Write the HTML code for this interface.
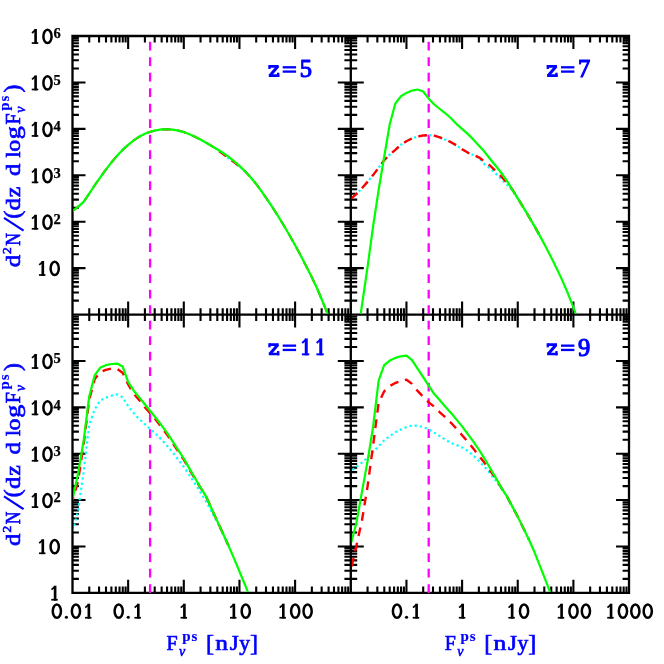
<!DOCTYPE html>
<html><head><meta charset="utf-8"><title>chart</title>
<style>
html,body{margin:0;padding:0;background:#fff;}
body{width:664px;height:664px;overflow:hidden;font-family:"Liberation Serif",serif;}
svg{display:block;will-change:transform;}
</style></head><body>
<svg width="664" height="664" viewBox="0 0 664 664">
<rect width="664" height="664" fill="#fff"/>
<defs>
<clipPath id="c1"><rect x="73.50" y="37.00" width="276.30" height="276.60"/></clipPath>
<clipPath id="c2"><rect x="351.80" y="37.00" width="276.20" height="276.60"/></clipPath>
<clipPath id="c3"><rect x="73.50" y="315.60" width="276.30" height="276.20"/></clipPath>
<clipPath id="c4"><rect x="351.80" y="315.60" width="276.20" height="276.20"/></clipPath>
</defs>
<path d="M89.25,36.00 L89.25,42.40 M89.25,308.20 L89.25,321.00 M89.25,592.80 L89.25,586.40 M99.05,36.00 L99.05,42.40 M99.05,308.20 L99.05,321.00 M99.05,592.80 L99.05,586.40 M106.00,36.00 L106.00,42.40 M106.00,308.20 L106.00,321.00 M106.00,592.80 L106.00,586.40 M111.40,36.00 L111.40,42.40 M111.40,308.20 L111.40,321.00 M111.40,592.80 L111.40,586.40 M115.80,36.00 L115.80,42.40 M115.80,308.20 L115.80,321.00 M115.80,592.80 L115.80,586.40 M119.53,36.00 L119.53,42.40 M119.53,308.20 L119.53,321.00 M119.53,592.80 L119.53,586.40 M122.76,36.00 L122.76,42.40 M122.76,308.20 L122.76,321.00 M122.76,592.80 L122.76,586.40 M125.60,36.00 L125.60,42.40 M125.60,308.20 L125.60,321.00 M125.60,592.80 L125.60,586.40 M128.15,36.00 L128.15,49.00 M128.15,301.60 L128.15,327.60 M128.15,592.80 L128.15,579.80 M144.90,36.00 L144.90,42.40 M144.90,308.20 L144.90,321.00 M144.90,592.80 L144.90,586.40 M154.70,36.00 L154.70,42.40 M154.70,308.20 L154.70,321.00 M154.70,592.80 L154.70,586.40 M161.65,36.00 L161.65,42.40 M161.65,308.20 L161.65,321.00 M161.65,592.80 L161.65,586.40 M167.05,36.00 L167.05,42.40 M167.05,308.20 L167.05,321.00 M167.05,592.80 L167.05,586.40 M171.45,36.00 L171.45,42.40 M171.45,308.20 L171.45,321.00 M171.45,592.80 L171.45,586.40 M175.18,36.00 L175.18,42.40 M175.18,308.20 L175.18,321.00 M175.18,592.80 L175.18,586.40 M178.41,36.00 L178.41,42.40 M178.41,308.20 L178.41,321.00 M178.41,592.80 L178.41,586.40 M181.25,36.00 L181.25,42.40 M181.25,308.20 L181.25,321.00 M181.25,592.80 L181.25,586.40 M183.80,36.00 L183.80,49.00 M183.80,301.60 L183.80,327.60 M183.80,592.80 L183.80,579.80 M200.55,36.00 L200.55,42.40 M200.55,308.20 L200.55,321.00 M200.55,592.80 L200.55,586.40 M210.35,36.00 L210.35,42.40 M210.35,308.20 L210.35,321.00 M210.35,592.80 L210.35,586.40 M217.30,36.00 L217.30,42.40 M217.30,308.20 L217.30,321.00 M217.30,592.80 L217.30,586.40 M222.70,36.00 L222.70,42.40 M222.70,308.20 L222.70,321.00 M222.70,592.80 L222.70,586.40 M227.10,36.00 L227.10,42.40 M227.10,308.20 L227.10,321.00 M227.10,592.80 L227.10,586.40 M230.83,36.00 L230.83,42.40 M230.83,308.20 L230.83,321.00 M230.83,592.80 L230.83,586.40 M234.06,36.00 L234.06,42.40 M234.06,308.20 L234.06,321.00 M234.06,592.80 L234.06,586.40 M236.90,36.00 L236.90,42.40 M236.90,308.20 L236.90,321.00 M236.90,592.80 L236.90,586.40 M239.45,36.00 L239.45,49.00 M239.45,301.60 L239.45,327.60 M239.45,592.80 L239.45,579.80 M256.20,36.00 L256.20,42.40 M256.20,308.20 L256.20,321.00 M256.20,592.80 L256.20,586.40 M266.00,36.00 L266.00,42.40 M266.00,308.20 L266.00,321.00 M266.00,592.80 L266.00,586.40 M272.95,36.00 L272.95,42.40 M272.95,308.20 L272.95,321.00 M272.95,592.80 L272.95,586.40 M278.35,36.00 L278.35,42.40 M278.35,308.20 L278.35,321.00 M278.35,592.80 L278.35,586.40 M282.75,36.00 L282.75,42.40 M282.75,308.20 L282.75,321.00 M282.75,592.80 L282.75,586.40 M286.48,36.00 L286.48,42.40 M286.48,308.20 L286.48,321.00 M286.48,592.80 L286.48,586.40 M289.71,36.00 L289.71,42.40 M289.71,308.20 L289.71,321.00 M289.71,592.80 L289.71,586.40 M292.55,36.00 L292.55,42.40 M292.55,308.20 L292.55,321.00 M292.55,592.80 L292.55,586.40 M295.10,36.00 L295.10,49.00 M295.10,301.60 L295.10,327.60 M295.10,592.80 L295.10,579.80 M311.85,36.00 L311.85,42.40 M311.85,308.20 L311.85,321.00 M311.85,592.80 L311.85,586.40 M321.65,36.00 L321.65,42.40 M321.65,308.20 L321.65,321.00 M321.65,592.80 L321.65,586.40 M328.60,36.00 L328.60,42.40 M328.60,308.20 L328.60,321.00 M328.60,592.80 L328.60,586.40 M334.00,36.00 L334.00,42.40 M334.00,308.20 L334.00,321.00 M334.00,592.80 L334.00,586.40 M338.40,36.00 L338.40,42.40 M338.40,308.20 L338.40,321.00 M338.40,592.80 L338.40,586.40 M342.13,36.00 L342.13,42.40 M342.13,308.20 L342.13,321.00 M342.13,592.80 L342.13,586.40 M345.36,36.00 L345.36,42.40 M345.36,308.20 L345.36,321.00 M345.36,592.80 L345.36,586.40 M348.20,36.00 L348.20,42.40 M348.20,308.20 L348.20,321.00 M348.20,592.80 L348.20,586.40 M367.55,36.00 L367.55,42.40 M367.55,308.20 L367.55,321.00 M367.55,592.80 L367.55,586.40 M377.35,36.00 L377.35,42.40 M377.35,308.20 L377.35,321.00 M377.35,592.80 L377.35,586.40 M384.30,36.00 L384.30,42.40 M384.30,308.20 L384.30,321.00 M384.30,592.80 L384.30,586.40 M389.70,36.00 L389.70,42.40 M389.70,308.20 L389.70,321.00 M389.70,592.80 L389.70,586.40 M394.10,36.00 L394.10,42.40 M394.10,308.20 L394.10,321.00 M394.10,592.80 L394.10,586.40 M397.83,36.00 L397.83,42.40 M397.83,308.20 L397.83,321.00 M397.83,592.80 L397.83,586.40 M401.06,36.00 L401.06,42.40 M401.06,308.20 L401.06,321.00 M401.06,592.80 L401.06,586.40 M403.90,36.00 L403.90,42.40 M403.90,308.20 L403.90,321.00 M403.90,592.80 L403.90,586.40 M406.45,36.00 L406.45,49.00 M406.45,301.60 L406.45,327.60 M406.45,592.80 L406.45,579.80 M423.20,36.00 L423.20,42.40 M423.20,308.20 L423.20,321.00 M423.20,592.80 L423.20,586.40 M433.00,36.00 L433.00,42.40 M433.00,308.20 L433.00,321.00 M433.00,592.80 L433.00,586.40 M439.95,36.00 L439.95,42.40 M439.95,308.20 L439.95,321.00 M439.95,592.80 L439.95,586.40 M445.35,36.00 L445.35,42.40 M445.35,308.20 L445.35,321.00 M445.35,592.80 L445.35,586.40 M449.75,36.00 L449.75,42.40 M449.75,308.20 L449.75,321.00 M449.75,592.80 L449.75,586.40 M453.48,36.00 L453.48,42.40 M453.48,308.20 L453.48,321.00 M453.48,592.80 L453.48,586.40 M456.71,36.00 L456.71,42.40 M456.71,308.20 L456.71,321.00 M456.71,592.80 L456.71,586.40 M459.55,36.00 L459.55,42.40 M459.55,308.20 L459.55,321.00 M459.55,592.80 L459.55,586.40 M462.10,36.00 L462.10,49.00 M462.10,301.60 L462.10,327.60 M462.10,592.80 L462.10,579.80 M478.85,36.00 L478.85,42.40 M478.85,308.20 L478.85,321.00 M478.85,592.80 L478.85,586.40 M488.65,36.00 L488.65,42.40 M488.65,308.20 L488.65,321.00 M488.65,592.80 L488.65,586.40 M495.60,36.00 L495.60,42.40 M495.60,308.20 L495.60,321.00 M495.60,592.80 L495.60,586.40 M501.00,36.00 L501.00,42.40 M501.00,308.20 L501.00,321.00 M501.00,592.80 L501.00,586.40 M505.40,36.00 L505.40,42.40 M505.40,308.20 L505.40,321.00 M505.40,592.80 L505.40,586.40 M509.13,36.00 L509.13,42.40 M509.13,308.20 L509.13,321.00 M509.13,592.80 L509.13,586.40 M512.36,36.00 L512.36,42.40 M512.36,308.20 L512.36,321.00 M512.36,592.80 L512.36,586.40 M515.20,36.00 L515.20,42.40 M515.20,308.20 L515.20,321.00 M515.20,592.80 L515.20,586.40 M517.75,36.00 L517.75,49.00 M517.75,301.60 L517.75,327.60 M517.75,592.80 L517.75,579.80 M534.50,36.00 L534.50,42.40 M534.50,308.20 L534.50,321.00 M534.50,592.80 L534.50,586.40 M544.30,36.00 L544.30,42.40 M544.30,308.20 L544.30,321.00 M544.30,592.80 L544.30,586.40 M551.25,36.00 L551.25,42.40 M551.25,308.20 L551.25,321.00 M551.25,592.80 L551.25,586.40 M556.65,36.00 L556.65,42.40 M556.65,308.20 L556.65,321.00 M556.65,592.80 L556.65,586.40 M561.05,36.00 L561.05,42.40 M561.05,308.20 L561.05,321.00 M561.05,592.80 L561.05,586.40 M564.78,36.00 L564.78,42.40 M564.78,308.20 L564.78,321.00 M564.78,592.80 L564.78,586.40 M568.01,36.00 L568.01,42.40 M568.01,308.20 L568.01,321.00 M568.01,592.80 L568.01,586.40 M570.85,36.00 L570.85,42.40 M570.85,308.20 L570.85,321.00 M570.85,592.80 L570.85,586.40 M573.40,36.00 L573.40,49.00 M573.40,301.60 L573.40,327.60 M573.40,592.80 L573.40,579.80 M590.15,36.00 L590.15,42.40 M590.15,308.20 L590.15,321.00 M590.15,592.80 L590.15,586.40 M599.95,36.00 L599.95,42.40 M599.95,308.20 L599.95,321.00 M599.95,592.80 L599.95,586.40 M606.90,36.00 L606.90,42.40 M606.90,308.20 L606.90,321.00 M606.90,592.80 L606.90,586.40 M612.30,36.00 L612.30,42.40 M612.30,308.20 L612.30,321.00 M612.30,592.80 L612.30,586.40 M616.70,36.00 L616.70,42.40 M616.70,308.20 L616.70,321.00 M616.70,592.80 L616.70,586.40 M620.43,36.00 L620.43,42.40 M620.43,308.20 L620.43,321.00 M620.43,592.80 L620.43,586.40 M623.66,36.00 L623.66,42.40 M623.66,308.20 L623.66,321.00 M623.66,592.80 L623.66,586.40 M626.50,36.00 L626.50,42.40 M626.50,308.20 L626.50,321.00 M626.50,592.80 L626.50,586.40 M72.50,300.62 L78.90,300.62 M344.40,300.62 L357.20,300.62 M629.00,300.62 L622.60,300.62 M72.50,292.45 L78.90,292.45 M344.40,292.45 L357.20,292.45 M629.00,292.45 L622.60,292.45 M72.50,286.64 L78.90,286.64 M344.40,286.64 L357.20,286.64 M629.00,286.64 L622.60,286.64 M72.50,282.14 L78.90,282.14 M344.40,282.14 L357.20,282.14 M629.00,282.14 L622.60,282.14 M72.50,278.47 L78.90,278.47 M344.40,278.47 L357.20,278.47 M629.00,278.47 L622.60,278.47 M72.50,275.36 L78.90,275.36 M344.40,275.36 L357.20,275.36 M629.00,275.36 L622.60,275.36 M72.50,272.67 L78.90,272.67 M344.40,272.67 L357.20,272.67 M629.00,272.67 L622.60,272.67 M72.50,270.29 L78.90,270.29 M344.40,270.29 L357.20,270.29 M629.00,270.29 L622.60,270.29 M72.50,268.17 L85.50,268.17 M337.80,268.17 L363.80,268.17 M629.00,268.17 L616.00,268.17 M72.50,254.19 L78.90,254.19 M344.40,254.19 L357.20,254.19 M629.00,254.19 L622.60,254.19 M72.50,246.01 L78.90,246.01 M344.40,246.01 L357.20,246.01 M629.00,246.01 L622.60,246.01 M72.50,240.21 L78.90,240.21 M344.40,240.21 L357.20,240.21 M629.00,240.21 L622.60,240.21 M72.50,235.71 L78.90,235.71 M344.40,235.71 L357.20,235.71 M629.00,235.71 L622.60,235.71 M72.50,232.03 L78.90,232.03 M344.40,232.03 L357.20,232.03 M629.00,232.03 L622.60,232.03 M72.50,228.93 L78.90,228.93 M344.40,228.93 L357.20,228.93 M629.00,228.93 L622.60,228.93 M72.50,226.23 L78.90,226.23 M344.40,226.23 L357.20,226.23 M629.00,226.23 L622.60,226.23 M72.50,223.86 L78.90,223.86 M344.40,223.86 L357.20,223.86 M629.00,223.86 L622.60,223.86 M72.50,221.73 L85.50,221.73 M337.80,221.73 L363.80,221.73 M629.00,221.73 L616.00,221.73 M72.50,207.76 L78.90,207.76 M344.40,207.76 L357.20,207.76 M629.00,207.76 L622.60,207.76 M72.50,199.58 L78.90,199.58 M344.40,199.58 L357.20,199.58 M629.00,199.58 L622.60,199.58 M72.50,193.78 L78.90,193.78 M344.40,193.78 L357.20,193.78 M629.00,193.78 L622.60,193.78 M72.50,189.28 L78.90,189.28 M344.40,189.28 L357.20,189.28 M629.00,189.28 L622.60,189.28 M72.50,185.60 L78.90,185.60 M344.40,185.60 L357.20,185.60 M629.00,185.60 L622.60,185.60 M72.50,182.49 L78.90,182.49 M344.40,182.49 L357.20,182.49 M629.00,182.49 L622.60,182.49 M72.50,179.80 L78.90,179.80 M344.40,179.80 L357.20,179.80 M629.00,179.80 L622.60,179.80 M72.50,177.42 L78.90,177.42 M344.40,177.42 L357.20,177.42 M629.00,177.42 L622.60,177.42 M72.50,175.30 L85.50,175.30 M337.80,175.30 L363.80,175.30 M629.00,175.30 L616.00,175.30 M72.50,161.32 L78.90,161.32 M344.40,161.32 L357.20,161.32 M629.00,161.32 L622.60,161.32 M72.50,153.15 L78.90,153.15 M344.40,153.15 L357.20,153.15 M629.00,153.15 L622.60,153.15 M72.50,147.34 L78.90,147.34 M344.40,147.34 L357.20,147.34 M629.00,147.34 L622.60,147.34 M72.50,142.84 L78.90,142.84 M344.40,142.84 L357.20,142.84 M629.00,142.84 L622.60,142.84 M72.50,139.17 L78.90,139.17 M344.40,139.17 L357.20,139.17 M629.00,139.17 L622.60,139.17 M72.50,136.06 L78.90,136.06 M344.40,136.06 L357.20,136.06 M629.00,136.06 L622.60,136.06 M72.50,133.37 L78.90,133.37 M344.40,133.37 L357.20,133.37 M629.00,133.37 L622.60,133.37 M72.50,130.99 L78.90,130.99 M344.40,130.99 L357.20,130.99 M629.00,130.99 L622.60,130.99 M72.50,128.87 L85.50,128.87 M337.80,128.87 L363.80,128.87 M629.00,128.87 L616.00,128.87 M72.50,114.89 L78.90,114.89 M344.40,114.89 L357.20,114.89 M629.00,114.89 L622.60,114.89 M72.50,106.71 L78.90,106.71 M344.40,106.71 L357.20,106.71 M629.00,106.71 L622.60,106.71 M72.50,100.91 L78.90,100.91 M344.40,100.91 L357.20,100.91 M629.00,100.91 L622.60,100.91 M72.50,96.41 L78.90,96.41 M344.40,96.41 L357.20,96.41 M629.00,96.41 L622.60,96.41 M72.50,92.73 L78.90,92.73 M344.40,92.73 L357.20,92.73 M629.00,92.73 L622.60,92.73 M72.50,89.63 L78.90,89.63 M344.40,89.63 L357.20,89.63 M629.00,89.63 L622.60,89.63 M72.50,86.93 L78.90,86.93 M344.40,86.93 L357.20,86.93 M629.00,86.93 L622.60,86.93 M72.50,84.56 L78.90,84.56 M344.40,84.56 L357.20,84.56 M629.00,84.56 L622.60,84.56 M72.50,82.43 L85.50,82.43 M337.80,82.43 L363.80,82.43 M629.00,82.43 L616.00,82.43 M72.50,68.46 L78.90,68.46 M344.40,68.46 L357.20,68.46 M629.00,68.46 L622.60,68.46 M72.50,60.28 L78.90,60.28 M344.40,60.28 L357.20,60.28 M629.00,60.28 L622.60,60.28 M72.50,54.48 L78.90,54.48 M344.40,54.48 L357.20,54.48 M629.00,54.48 L622.60,54.48 M72.50,49.98 L78.90,49.98 M344.40,49.98 L357.20,49.98 M629.00,49.98 L622.60,49.98 M72.50,46.30 L78.90,46.30 M344.40,46.30 L357.20,46.30 M629.00,46.30 L622.60,46.30 M72.50,43.19 L78.90,43.19 M344.40,43.19 L357.20,43.19 M629.00,43.19 L622.60,43.19 M72.50,40.50 L78.90,40.50 M344.40,40.50 L357.20,40.50 M629.00,40.50 L622.60,40.50 M72.50,38.12 L78.90,38.12 M344.40,38.12 L357.20,38.12 M629.00,38.12 L622.60,38.12 M72.50,578.84 L78.90,578.84 M344.40,578.84 L357.20,578.84 M629.00,578.84 L622.60,578.84 M72.50,570.68 L78.90,570.68 M344.40,570.68 L357.20,570.68 M629.00,570.68 L622.60,570.68 M72.50,564.88 L78.90,564.88 M344.40,564.88 L357.20,564.88 M629.00,564.88 L622.60,564.88 M72.50,560.39 L78.90,560.39 M344.40,560.39 L357.20,560.39 M629.00,560.39 L622.60,560.39 M72.50,556.72 L78.90,556.72 M344.40,556.72 L357.20,556.72 M629.00,556.72 L622.60,556.72 M72.50,553.62 L78.90,553.62 M344.40,553.62 L357.20,553.62 M629.00,553.62 L622.60,553.62 M72.50,550.93 L78.90,550.93 M344.40,550.93 L357.20,550.93 M629.00,550.93 L622.60,550.93 M72.50,548.55 L78.90,548.55 M344.40,548.55 L357.20,548.55 M629.00,548.55 L622.60,548.55 M72.50,546.43 L85.50,546.43 M337.80,546.43 L363.80,546.43 M629.00,546.43 L616.00,546.43 M72.50,532.48 L78.90,532.48 M344.40,532.48 L357.20,532.48 M629.00,532.48 L622.60,532.48 M72.50,524.31 L78.90,524.31 M344.40,524.31 L357.20,524.31 M629.00,524.31 L622.60,524.31 M72.50,518.52 L78.90,518.52 M344.40,518.52 L357.20,518.52 M629.00,518.52 L622.60,518.52 M72.50,514.02 L78.90,514.02 M344.40,514.02 L357.20,514.02 M629.00,514.02 L622.60,514.02 M72.50,510.35 L78.90,510.35 M344.40,510.35 L357.20,510.35 M629.00,510.35 L622.60,510.35 M72.50,507.25 L78.90,507.25 M344.40,507.25 L357.20,507.25 M629.00,507.25 L622.60,507.25 M72.50,504.56 L78.90,504.56 M344.40,504.56 L357.20,504.56 M629.00,504.56 L622.60,504.56 M72.50,502.19 L78.90,502.19 M344.40,502.19 L357.20,502.19 M629.00,502.19 L622.60,502.19 M72.50,500.07 L85.50,500.07 M337.80,500.07 L363.80,500.07 M629.00,500.07 L616.00,500.07 M72.50,486.11 L78.90,486.11 M344.40,486.11 L357.20,486.11 M629.00,486.11 L622.60,486.11 M72.50,477.94 L78.90,477.94 M344.40,477.94 L357.20,477.94 M629.00,477.94 L622.60,477.94 M72.50,472.15 L78.90,472.15 M344.40,472.15 L357.20,472.15 M629.00,472.15 L622.60,472.15 M72.50,467.66 L78.90,467.66 M344.40,467.66 L357.20,467.66 M629.00,467.66 L622.60,467.66 M72.50,463.99 L78.90,463.99 M344.40,463.99 L357.20,463.99 M629.00,463.99 L622.60,463.99 M72.50,460.88 L78.90,460.88 M344.40,460.88 L357.20,460.88 M629.00,460.88 L622.60,460.88 M72.50,458.19 L78.90,458.19 M344.40,458.19 L357.20,458.19 M629.00,458.19 L622.60,458.19 M72.50,455.82 L78.90,455.82 M344.40,455.82 L357.20,455.82 M629.00,455.82 L622.60,455.82 M72.50,453.70 L85.50,453.70 M337.80,453.70 L363.80,453.70 M629.00,453.70 L616.00,453.70 M72.50,439.74 L78.90,439.74 M344.40,439.74 L357.20,439.74 M629.00,439.74 L622.60,439.74 M72.50,431.58 L78.90,431.58 M344.40,431.58 L357.20,431.58 M629.00,431.58 L622.60,431.58 M72.50,425.78 L78.90,425.78 M344.40,425.78 L357.20,425.78 M629.00,425.78 L622.60,425.78 M72.50,421.29 L78.90,421.29 M344.40,421.29 L357.20,421.29 M629.00,421.29 L622.60,421.29 M72.50,417.62 L78.90,417.62 M344.40,417.62 L357.20,417.62 M629.00,417.62 L622.60,417.62 M72.50,414.52 L78.90,414.52 M344.40,414.52 L357.20,414.52 M629.00,414.52 L622.60,414.52 M72.50,411.83 L78.90,411.83 M344.40,411.83 L357.20,411.83 M629.00,411.83 L622.60,411.83 M72.50,409.45 L78.90,409.45 M344.40,409.45 L357.20,409.45 M629.00,409.45 L622.60,409.45 M72.50,407.33 L85.50,407.33 M337.80,407.33 L363.80,407.33 M629.00,407.33 L616.00,407.33 M72.50,393.38 L78.90,393.38 M344.40,393.38 L357.20,393.38 M629.00,393.38 L622.60,393.38 M72.50,385.21 L78.90,385.21 M344.40,385.21 L357.20,385.21 M629.00,385.21 L622.60,385.21 M72.50,379.42 L78.90,379.42 M344.40,379.42 L357.20,379.42 M629.00,379.42 L622.60,379.42 M72.50,374.92 L78.90,374.92 M344.40,374.92 L357.20,374.92 M629.00,374.92 L622.60,374.92 M72.50,371.25 L78.90,371.25 M344.40,371.25 L357.20,371.25 M629.00,371.25 L622.60,371.25 M72.50,368.15 L78.90,368.15 M344.40,368.15 L357.20,368.15 M629.00,368.15 L622.60,368.15 M72.50,365.46 L78.90,365.46 M344.40,365.46 L357.20,365.46 M629.00,365.46 L622.60,365.46 M72.50,363.09 L78.90,363.09 M344.40,363.09 L357.20,363.09 M629.00,363.09 L622.60,363.09 M72.50,360.97 L85.50,360.97 M337.80,360.97 L363.80,360.97 M629.00,360.97 L616.00,360.97 M72.50,347.01 L78.90,347.01 M344.40,347.01 L357.20,347.01 M629.00,347.01 L622.60,347.01 M72.50,338.84 L78.90,338.84 M344.40,338.84 L357.20,338.84 M629.00,338.84 L622.60,338.84 M72.50,333.05 L78.90,333.05 M344.40,333.05 L357.20,333.05 M629.00,333.05 L622.60,333.05 M72.50,328.56 L78.90,328.56 M344.40,328.56 L357.20,328.56 M629.00,328.56 L622.60,328.56 M72.50,324.89 L78.90,324.89 M344.40,324.89 L357.20,324.89 M629.00,324.89 L622.60,324.89 M72.50,321.78 L78.90,321.78 M344.40,321.78 L357.20,321.78 M629.00,321.78 L622.60,321.78 M72.50,319.09 L78.90,319.09 M344.40,319.09 L357.20,319.09 M629.00,319.09 L622.60,319.09 M72.50,316.72 L78.90,316.72 M344.40,316.72 L357.20,316.72 M629.00,316.72 L622.60,316.72" stroke="#000" stroke-width="2.1" fill="none"/>
<path d="M72.50,34.85 L72.50,593.95 M350.80,34.85 L350.80,593.95 M629.00,34.85 L629.00,593.95 M71.35,36.00 L630.15,36.00 M71.35,314.60 L630.15,314.60 M71.35,592.80 L630.15,592.80" stroke="#000" stroke-width="2.3" fill="none"/>
<path d="M150.10,593.00 L150.10,36.00" stroke="#ff00ff" stroke-width="2.3" stroke-dasharray="8.8 6.7" fill="none"/>
<path d="M428.70,593.00 L428.70,36.00" stroke="#ff00ff" stroke-width="2.3" stroke-dasharray="8.8 6.7" fill="none"/>
<g clip-path="url(#c1)">
<path d="M72.50,211.00 L78.06,206.80 L83.63,201.89 L89.19,193.72 L94.76,185.24 L100.32,177.27 L105.89,169.60 L111.45,162.44 L117.02,155.84 L122.58,149.92 L128.15,144.85 L133.72,140.44 L139.28,136.68 L144.84,133.82 L150.41,131.72 L155.97,130.29 L161.54,129.46 L167.10,129.25 L172.67,129.66 L178.23,130.59 L183.80,132.09 L189.37,134.22 L194.93,136.74 L200.50,139.55 L206.06,142.68 L211.62,145.96 L217.19,149.69 L222.75,153.97 L228.32,158.20 L233.88,162.15 L239.45,166.40 L245.01,171.27 L250.58,177.25 L256.14,183.96 L261.71,191.54 L267.27,199.55 L272.84,207.90 L278.40,216.64 L283.97,225.77 L289.53,235.28 L295.10,245.18 L300.66,255.47 L306.23,266.14 L311.79,277.13 L317.36,288.96 L322.92,302.25 L328.00,315.00" stroke="#00ffff" stroke-width="1.8" stroke-dasharray="2.2 3.0" fill="none" stroke-linejoin="round"/>
<path d="M72.50,211.00 L78.06,206.80 L83.63,201.89 L89.19,193.72 L94.76,185.24 L100.32,177.27 L105.89,169.60 L111.45,162.44 L117.02,155.84 L122.58,149.92 L128.15,144.85 L133.72,140.44 L139.28,136.68 L144.84,133.82 L150.41,131.72 L155.97,130.29 L161.54,129.46 L167.10,129.25 L172.67,129.66 L178.23,130.59 L183.80,132.09 L189.37,134.22 L194.93,136.74 L200.50,139.55 L206.06,142.68 L211.62,145.96 L217.19,149.69 L222.75,153.97 L228.32,158.20 L233.88,162.15 L239.45,166.40 L245.01,171.27 L250.58,177.25 L256.14,183.96 L261.71,191.54 L267.27,199.55 L272.84,207.90 L278.40,216.64 L283.97,225.77 L289.53,235.28 L295.10,245.18 L300.66,255.47 L306.23,266.14 L311.79,277.13 L317.36,288.96 L322.92,302.25 L328.00,315.00" stroke="#ff0000" stroke-width="2.1" stroke-dasharray="8.8 6.8" fill="none" stroke-linejoin="round"/>
<path d="M72.50,211.00 L78.06,206.80 L83.63,201.89 L89.19,193.72 L94.76,185.24 L100.32,177.27 L105.89,169.60 L111.45,162.44 L117.02,155.84 L122.58,149.92 L128.15,144.85 L133.72,140.44 L139.28,136.68 L144.84,133.82 L150.41,131.72 L155.97,130.29 L161.54,129.46 L167.10,129.25 L172.67,129.66 L178.23,130.59 L183.80,132.09 L189.37,134.22 L194.93,136.74 L200.50,139.55 L206.06,142.68 L211.62,145.96 L217.19,149.29 L222.75,152.77 L228.32,156.60 L233.88,161.05 L239.45,165.90 L245.01,171.27 L250.58,177.25 L256.14,183.96 L261.71,191.54 L267.27,199.55 L272.84,207.90 L278.40,216.64 L283.97,225.77 L289.53,235.28 L295.10,245.18 L300.66,255.47 L306.23,266.14 L311.79,277.13 L317.36,288.96 L322.92,302.25 L328.00,315.00" stroke="#00ff00" stroke-width="2.2" fill="none" stroke-linejoin="round"/>
</g>
<g clip-path="url(#c2)">
<path d="M350.80,198.85 L356.37,194.10 L361.93,188.30 L367.50,181.90 L373.06,175.10 L378.62,167.70 L384.19,160.20 L389.75,154.60 L395.32,149.85 L400.88,144.70 L406.45,141.20 L412.01,138.40 L417.58,136.50 L423.14,135.50 L428.71,135.10 L434.27,135.65 L439.84,137.30 L445.40,139.70 L450.97,142.20 L456.53,145.40 L462.10,149.20 L467.67,152.60 L473.23,155.00 L478.80,157.60 L484.36,164.10 L489.93,168.20 L495.49,173.30 L501.06,179.00 L506.62,184.40 L512.18,190.02 L517.75,198.30 L523.32,207.30 L528.88,216.60 L534.44,226.10 L540.01,236.10" stroke="#00ffff" stroke-width="2.2" stroke-dasharray="2.2 3.0" fill="none" stroke-linejoin="round" stroke-dashoffset="-0.50"/>
<path d="M350.80,198.85 L356.37,194.10 L361.93,188.30 L367.50,181.90 L373.06,175.10 L378.62,167.70 L384.19,160.20 L389.75,154.60 L395.32,149.85 L400.88,144.70 L406.45,141.20 L412.01,138.40 L417.58,136.50 L423.14,135.50 L428.71,135.10 L434.27,135.65 L439.84,137.30 L445.40,139.70 L450.97,142.20 L456.53,145.40 L462.10,149.20 L467.67,152.60 L473.23,155.00 L478.80,157.30 L484.36,161.40 L489.93,165.50 L495.49,170.90 L501.06,176.30 L506.62,182.40 L512.18,189.17 L517.75,198.30 L523.32,207.30 L528.88,216.60 L534.44,226.10 L540.01,236.10" stroke="#ff0000" stroke-width="2.4" stroke-dasharray="8.8 6.8" fill="none" stroke-linejoin="round" stroke-dashoffset="0.20"/>
<path d="M360.60,314.80 L361.93,305.50 L367.50,267.50 L373.06,226.50 L378.62,190.00 L384.19,156.80 L389.75,124.30 L395.32,103.50 L400.88,96.30 L406.45,92.90 L412.01,90.60 L417.58,89.50 L423.14,91.50 L428.71,98.70 L434.27,104.50 L439.84,109.00 L445.40,113.30 L450.97,118.30 L456.53,124.10 L462.10,128.90 L467.67,133.90 L473.23,139.40 L478.80,145.40 L484.36,151.60 L489.93,158.70 L495.49,165.50 L501.06,172.50 L506.62,180.30 L512.18,189.30 L517.75,198.30 L523.32,207.30 L528.88,216.60 L534.44,226.10 L540.01,236.10 L545.58,246.50 L551.14,257.30 L556.70,268.60 L562.27,280.40 L567.84,293.30 L573.40,307.30 L576.30,315.50" stroke="#00ff00" stroke-width="2.2" fill="none" stroke-linejoin="round"/>
</g>
<g clip-path="url(#c3)">
<path d="M72.50,532.00 L78.06,511.00 L83.63,471.50 L89.19,425.00 L94.76,409.20 L100.32,400.50 L105.89,397.60 L111.45,395.80 L117.02,394.40 L122.58,397.20 L128.15,406.20 L133.72,413.00 L139.28,419.20 L144.84,424.10 L150.41,429.30 L155.97,434.00 L161.54,439.70 L167.10,445.70 L172.67,452.30 L178.23,459.60 L183.80,466.80 L189.37,475.20 L194.93,483.60 L200.50,492.30 L206.06,501.50 L211.62,511.50 L217.19,522.30 L222.75,533.50 L228.32,545.30" stroke="#00ffff" stroke-width="2.2" stroke-dasharray="2.2 3.0" fill="none" stroke-linejoin="round" stroke-dashoffset="-1.40"/>
<path d="M72.50,500.50 L78.06,481.00 L83.63,444.50 L89.19,399.90 L94.76,378.90 L100.32,372.10 L105.89,369.90 L111.45,368.60 L117.02,368.80 L122.58,372.80 L128.15,384.30 L133.72,393.80 L139.28,400.10 L144.84,407.20 L150.41,413.40 L155.97,420.00 L161.54,427.20 L167.10,434.70 L172.67,442.90 L178.23,451.50 L183.80,459.70 L189.37,469.40 L194.93,478.70 L200.50,487.80 L206.06,496.30 L211.62,508.80 L217.19,520.90 L222.75,533.00 L228.32,545.30" stroke="#ff0000" stroke-width="2.4" stroke-dasharray="8.8 6.8" fill="none" stroke-linejoin="round" stroke-dashoffset="5.30"/>
<path d="M72.50,499.50 L78.06,473.50 L83.63,441.00 L89.19,396.70 L94.76,375.10 L100.32,367.60 L105.89,365.20 L111.45,364.00 L117.02,363.55 L122.58,366.50 L128.15,381.80 L133.72,390.70 L139.28,397.40 L144.84,404.20 L150.41,411.20 L155.97,418.00 L161.54,425.30 L167.10,432.90 L172.67,441.30 L178.23,450.10 L183.80,458.50 L189.37,468.40 L194.93,478.00 L200.50,487.40 L206.06,496.30 L211.62,508.80 L217.19,520.90 L222.75,533.00 L228.32,545.30 L233.88,558.10 L239.45,571.50 L245.01,584.70 L248.40,593.50" stroke="#00ff00" stroke-width="2.2" fill="none" stroke-linejoin="round"/>
</g>
<g clip-path="url(#c4)">
<path d="M350.80,471.26 L356.37,466.88 L361.93,462.59 L367.50,457.49 L373.06,452.05 L378.62,446.22 L384.19,440.41 L389.75,436.04 L395.32,432.32 L400.88,429.45 L406.45,427.12 L412.01,425.55 L417.58,425.67 L423.14,427.04 L428.71,429.34 L434.27,432.67 L439.84,436.16 L445.40,439.70 L450.97,443.10 L456.53,445.00 L462.10,447.40 L467.67,450.90 L473.23,455.40 L478.80,460.70 L484.36,466.80 L489.93,473.20 L495.49,480.20 L501.06,487.80 L506.62,495.87 L512.18,506.20 L517.75,516.81" stroke="#00ffff" stroke-width="2.2" stroke-dasharray="2.2 3.0" fill="none" stroke-linejoin="round" stroke-dashoffset="-2.00"/>
<path d="M350.80,570.28 L356.37,545.71 L361.93,520.55 L367.50,486.78 L373.06,445.80 L378.62,403.00 L384.19,391.30 L389.75,386.00 L395.32,383.00 L400.88,381.10 L406.45,379.70 L412.01,383.90 L417.58,390.90 L423.14,396.80 L428.71,402.40 L434.27,406.70 L439.84,412.30 L445.40,417.30 L450.97,422.80 L456.53,428.90 L462.10,435.20 L467.67,441.70 L473.23,448.40 L478.80,455.80 L484.36,462.60 L489.93,470.50 L495.49,477.90 L501.06,487.40 L506.62,495.87 L512.18,506.20 L517.75,516.81 L523.32,527.93 L528.88,539.52" stroke="#ff0000" stroke-width="2.4" stroke-dasharray="8.8 6.8" fill="none" stroke-linejoin="round" stroke-dashoffset="11.70"/>
<path d="M350.80,544.33 L356.37,523.00 L361.93,491.90 L367.50,461.60 L373.06,427.00 L378.62,380.70 L384.19,365.20 L389.75,360.60 L395.32,357.90 L400.88,356.30 L406.45,355.60 L412.01,360.20 L417.58,368.60 L423.14,377.20 L428.71,385.70 L434.27,394.10 L439.84,400.30 L445.40,406.80 L450.97,412.90 L456.53,419.60 L462.10,426.40 L467.67,433.90 L473.23,441.30 L478.80,449.50 L484.36,458.30 L489.93,467.75 L495.49,477.20 L501.06,487.40 L506.62,495.87 L512.18,506.20 L517.75,516.81 L523.32,527.93 L528.88,539.52 L534.44,552.06 L540.01,566.11 L545.58,580.33 L550.50,593.00" stroke="#00ff00" stroke-width="2.2" fill="none" stroke-linejoin="round"/>
</g>
<ellipse cx="56.85" cy="611.15" rx="4.10" ry="6.60" fill="none" stroke="#000" stroke-width="2.5"/>
<circle cx="66.40" cy="617.25" r="1.6" fill="#000"/>
<ellipse cx="75.95" cy="611.15" rx="4.10" ry="6.60" fill="none" stroke="#000" stroke-width="2.5"/>
<path d="M88.85,603.70 L88.85,618.60" stroke="#000" stroke-width="2.65" fill="none"/>
<path d="M88.65,604.70 L85.25,607.70" stroke="#000" stroke-width="1.70" fill="none"/>
<path d="M85.00,617.75 L91.50,617.75" stroke="#000" stroke-width="1.70" fill="none"/>
<ellipse cx="118.70" cy="611.15" rx="4.10" ry="6.60" fill="none" stroke="#000" stroke-width="2.5"/>
<circle cx="128.25" cy="617.25" r="1.6" fill="#000"/>
<path d="M138.30,603.70 L138.30,618.60" stroke="#000" stroke-width="2.65" fill="none"/>
<path d="M138.10,604.70 L134.70,607.70" stroke="#000" stroke-width="1.70" fill="none"/>
<path d="M134.45,617.75 L140.95,617.75" stroke="#000" stroke-width="1.70" fill="none"/>
<path d="M184.40,603.70 L184.40,618.60" stroke="#000" stroke-width="2.65" fill="none"/>
<path d="M184.20,604.70 L180.80,607.70" stroke="#000" stroke-width="1.70" fill="none"/>
<path d="M180.55,617.75 L187.05,617.75" stroke="#000" stroke-width="1.70" fill="none"/>
<path d="M233.85,603.70 L233.85,618.60" stroke="#000" stroke-width="2.65" fill="none"/>
<path d="M233.65,604.70 L230.25,607.70" stroke="#000" stroke-width="1.70" fill="none"/>
<path d="M230.00,617.75 L236.50,617.75" stroke="#000" stroke-width="1.70" fill="none"/>
<ellipse cx="245.75" cy="611.15" rx="4.10" ry="6.60" fill="none" stroke="#000" stroke-width="2.5"/>
<path d="M283.30,603.70 L283.30,618.60" stroke="#000" stroke-width="2.65" fill="none"/>
<path d="M283.10,604.70 L279.70,607.70" stroke="#000" stroke-width="1.70" fill="none"/>
<path d="M279.45,617.75 L285.95,617.75" stroke="#000" stroke-width="1.70" fill="none"/>
<ellipse cx="295.20" cy="611.15" rx="4.10" ry="6.60" fill="none" stroke="#000" stroke-width="2.5"/>
<ellipse cx="307.60" cy="611.15" rx="4.10" ry="6.60" fill="none" stroke="#000" stroke-width="2.5"/>
<ellipse cx="397.00" cy="611.15" rx="4.10" ry="6.60" fill="none" stroke="#000" stroke-width="2.5"/>
<circle cx="406.55" cy="617.25" r="1.6" fill="#000"/>
<path d="M416.60,603.70 L416.60,618.60" stroke="#000" stroke-width="2.65" fill="none"/>
<path d="M416.40,604.70 L413.00,607.70" stroke="#000" stroke-width="1.70" fill="none"/>
<path d="M412.75,617.75 L419.25,617.75" stroke="#000" stroke-width="1.70" fill="none"/>
<path d="M462.70,603.70 L462.70,618.60" stroke="#000" stroke-width="2.65" fill="none"/>
<path d="M462.50,604.70 L459.10,607.70" stroke="#000" stroke-width="1.70" fill="none"/>
<path d="M458.85,617.75 L465.35,617.75" stroke="#000" stroke-width="1.70" fill="none"/>
<path d="M512.15,603.70 L512.15,618.60" stroke="#000" stroke-width="2.65" fill="none"/>
<path d="M511.95,604.70 L508.55,607.70" stroke="#000" stroke-width="1.70" fill="none"/>
<path d="M508.30,617.75 L514.80,617.75" stroke="#000" stroke-width="1.70" fill="none"/>
<ellipse cx="524.05" cy="611.15" rx="4.10" ry="6.60" fill="none" stroke="#000" stroke-width="2.5"/>
<path d="M561.60,603.70 L561.60,618.60" stroke="#000" stroke-width="2.65" fill="none"/>
<path d="M561.40,604.70 L558.00,607.70" stroke="#000" stroke-width="1.70" fill="none"/>
<path d="M557.75,617.75 L564.25,617.75" stroke="#000" stroke-width="1.70" fill="none"/>
<ellipse cx="573.50" cy="611.15" rx="4.10" ry="6.60" fill="none" stroke="#000" stroke-width="2.5"/>
<ellipse cx="585.90" cy="611.15" rx="4.10" ry="6.60" fill="none" stroke="#000" stroke-width="2.5"/>
<path d="M611.05,603.70 L611.05,618.60" stroke="#000" stroke-width="2.65" fill="none"/>
<path d="M610.85,604.70 L607.45,607.70" stroke="#000" stroke-width="1.70" fill="none"/>
<path d="M607.20,617.75 L613.70,617.75" stroke="#000" stroke-width="1.70" fill="none"/>
<ellipse cx="622.95" cy="611.15" rx="4.10" ry="6.60" fill="none" stroke="#000" stroke-width="2.5"/>
<ellipse cx="635.35" cy="611.15" rx="4.10" ry="6.60" fill="none" stroke="#000" stroke-width="2.5"/>
<ellipse cx="647.75" cy="611.15" rx="4.10" ry="6.60" fill="none" stroke="#000" stroke-width="2.5"/>
<path d="M42.80,260.97 L42.80,275.87" stroke="#000" stroke-width="2.65" fill="none"/>
<path d="M42.60,261.97 L39.20,264.97" stroke="#000" stroke-width="1.70" fill="none"/>
<path d="M38.95,275.02 L45.45,275.02" stroke="#000" stroke-width="1.70" fill="none"/>
<ellipse cx="54.70" cy="268.42" rx="4.10" ry="6.60" fill="none" stroke="#000" stroke-width="2.5"/>
<path d="M35.60,214.73 L35.60,229.63" stroke="#000" stroke-width="2.65" fill="none"/>
<path d="M35.40,215.73 L32.00,218.73" stroke="#000" stroke-width="1.70" fill="none"/>
<path d="M31.75,228.78 L38.25,228.78" stroke="#000" stroke-width="1.70" fill="none"/>
<ellipse cx="47.50" cy="222.18" rx="4.10" ry="6.60" fill="none" stroke="#000" stroke-width="2.5"/>
<text x="53.60" y="223.98" font-size="14.5" text-anchor="start" fill="#000" font-weight="bold" font-family="Liberation Serif, serif" stroke="#000" stroke-width="0.25">2</text>
<path d="M35.60,168.30 L35.60,183.20" stroke="#000" stroke-width="2.65" fill="none"/>
<path d="M35.40,169.30 L32.00,172.30" stroke="#000" stroke-width="1.70" fill="none"/>
<path d="M31.75,182.35 L38.25,182.35" stroke="#000" stroke-width="1.70" fill="none"/>
<ellipse cx="47.50" cy="175.75" rx="4.10" ry="6.60" fill="none" stroke="#000" stroke-width="2.5"/>
<text x="53.60" y="177.55" font-size="14.5" text-anchor="start" fill="#000" font-weight="bold" font-family="Liberation Serif, serif" stroke="#000" stroke-width="0.25">3</text>
<path d="M35.60,121.87 L35.60,136.77" stroke="#000" stroke-width="2.65" fill="none"/>
<path d="M35.40,122.87 L32.00,125.87" stroke="#000" stroke-width="1.70" fill="none"/>
<path d="M31.75,135.92 L38.25,135.92" stroke="#000" stroke-width="1.70" fill="none"/>
<ellipse cx="47.50" cy="129.32" rx="4.10" ry="6.60" fill="none" stroke="#000" stroke-width="2.5"/>
<text x="53.60" y="131.12" font-size="14.5" text-anchor="start" fill="#000" font-weight="bold" font-family="Liberation Serif, serif" stroke="#000" stroke-width="0.25">4</text>
<path d="M35.60,75.43 L35.60,90.33" stroke="#000" stroke-width="2.65" fill="none"/>
<path d="M35.40,76.43 L32.00,79.43" stroke="#000" stroke-width="1.70" fill="none"/>
<path d="M31.75,89.48 L38.25,89.48" stroke="#000" stroke-width="1.70" fill="none"/>
<ellipse cx="47.50" cy="82.88" rx="4.10" ry="6.60" fill="none" stroke="#000" stroke-width="2.5"/>
<text x="53.60" y="84.68" font-size="14.5" text-anchor="start" fill="#000" font-weight="bold" font-family="Liberation Serif, serif" stroke="#000" stroke-width="0.25">5</text>
<path d="M35.60,29.00 L35.60,43.90" stroke="#000" stroke-width="2.65" fill="none"/>
<path d="M35.40,30.00 L32.00,33.00" stroke="#000" stroke-width="1.70" fill="none"/>
<path d="M31.75,43.05 L38.25,43.05" stroke="#000" stroke-width="1.70" fill="none"/>
<ellipse cx="47.50" cy="36.45" rx="4.10" ry="6.60" fill="none" stroke="#000" stroke-width="2.5"/>
<text x="53.60" y="38.25" font-size="14.5" text-anchor="start" fill="#000" font-weight="bold" font-family="Liberation Serif, serif" stroke="#000" stroke-width="0.25">6</text>
<path d="M55.10,585.70 L55.10,600.60" stroke="#000" stroke-width="2.65" fill="none"/>
<path d="M54.90,586.70 L51.50,589.70" stroke="#000" stroke-width="1.70" fill="none"/>
<path d="M51.25,599.75 L57.75,599.75" stroke="#000" stroke-width="1.70" fill="none"/>
<path d="M42.80,539.23 L42.80,554.13" stroke="#000" stroke-width="2.65" fill="none"/>
<path d="M42.60,540.23 L39.20,543.23" stroke="#000" stroke-width="1.70" fill="none"/>
<path d="M38.95,553.28 L45.45,553.28" stroke="#000" stroke-width="1.70" fill="none"/>
<ellipse cx="54.70" cy="546.68" rx="4.10" ry="6.60" fill="none" stroke="#000" stroke-width="2.5"/>
<path d="M35.60,493.07 L35.60,507.97" stroke="#000" stroke-width="2.65" fill="none"/>
<path d="M35.40,494.07 L32.00,497.07" stroke="#000" stroke-width="1.70" fill="none"/>
<path d="M31.75,507.12 L38.25,507.12" stroke="#000" stroke-width="1.70" fill="none"/>
<ellipse cx="47.50" cy="500.52" rx="4.10" ry="6.60" fill="none" stroke="#000" stroke-width="2.5"/>
<text x="53.60" y="502.32" font-size="14.5" text-anchor="start" fill="#000" font-weight="bold" font-family="Liberation Serif, serif" stroke="#000" stroke-width="0.25">2</text>
<path d="M35.60,446.70 L35.60,461.60" stroke="#000" stroke-width="2.65" fill="none"/>
<path d="M35.40,447.70 L32.00,450.70" stroke="#000" stroke-width="1.70" fill="none"/>
<path d="M31.75,460.75 L38.25,460.75" stroke="#000" stroke-width="1.70" fill="none"/>
<ellipse cx="47.50" cy="454.15" rx="4.10" ry="6.60" fill="none" stroke="#000" stroke-width="2.5"/>
<text x="53.60" y="455.95" font-size="14.5" text-anchor="start" fill="#000" font-weight="bold" font-family="Liberation Serif, serif" stroke="#000" stroke-width="0.25">3</text>
<path d="M35.60,400.33 L35.60,415.23" stroke="#000" stroke-width="2.65" fill="none"/>
<path d="M35.40,401.33 L32.00,404.33" stroke="#000" stroke-width="1.70" fill="none"/>
<path d="M31.75,414.38 L38.25,414.38" stroke="#000" stroke-width="1.70" fill="none"/>
<ellipse cx="47.50" cy="407.78" rx="4.10" ry="6.60" fill="none" stroke="#000" stroke-width="2.5"/>
<text x="53.60" y="409.58" font-size="14.5" text-anchor="start" fill="#000" font-weight="bold" font-family="Liberation Serif, serif" stroke="#000" stroke-width="0.25">4</text>
<path d="M35.60,353.97 L35.60,368.87" stroke="#000" stroke-width="2.65" fill="none"/>
<path d="M35.40,354.97 L32.00,357.97" stroke="#000" stroke-width="1.70" fill="none"/>
<path d="M31.75,368.02 L38.25,368.02" stroke="#000" stroke-width="1.70" fill="none"/>
<ellipse cx="47.50" cy="361.42" rx="4.10" ry="6.60" fill="none" stroke="#000" stroke-width="2.5"/>
<text x="53.60" y="363.22" font-size="14.5" text-anchor="start" fill="#000" font-weight="bold" font-family="Liberation Serif, serif" stroke="#000" stroke-width="0.25">5</text>
<path d="M268.90,66.35 H278.70 M268.80,75.65 H279.30" stroke="#0000ff" stroke-width="2.7" fill="none"/>
<path d="M277.90,66.35 L269.80,75.65" stroke="#0000ff" stroke-width="3.0" fill="none"/>
<rect x="268.30" y="65.00" width="2.3" height="4.0" fill="#0000ff"/>
<rect x="277.00" y="72.70" width="2.3" height="4.3" fill="#0000ff"/>
<rect x="282.70" y="66.15" width="13.4" height="2.3" fill="#0000ff"/>
<rect x="282.70" y="70.45" width="13.4" height="2.3" fill="#0000ff"/>
<text x="305.80" y="77.15" font-size="24.5" text-anchor="middle" fill="#0000ff" font-weight="normal" font-family="Liberation Serif, serif" stroke="#0000ff" stroke-width="1.15" stroke-linejoin="round">5</text>
<path d="M547.20,66.35 H557.00 M547.10,75.65 H557.60" stroke="#0000ff" stroke-width="2.7" fill="none"/>
<path d="M556.20,66.35 L548.10,75.65" stroke="#0000ff" stroke-width="3.0" fill="none"/>
<rect x="546.60" y="65.00" width="2.3" height="4.0" fill="#0000ff"/>
<rect x="555.30" y="72.70" width="2.3" height="4.3" fill="#0000ff"/>
<rect x="561.00" y="66.15" width="13.4" height="2.3" fill="#0000ff"/>
<rect x="561.00" y="70.45" width="13.4" height="2.3" fill="#0000ff"/>
<text x="584.10" y="77.15" font-size="24.5" text-anchor="middle" fill="#0000ff" font-weight="normal" font-family="Liberation Serif, serif" stroke="#0000ff" stroke-width="1.15" stroke-linejoin="round">7</text>
<path d="M268.90,344.70 H278.70 M268.80,354.00 H279.30" stroke="#0000ff" stroke-width="2.7" fill="none"/>
<path d="M277.90,344.70 L269.80,354.00" stroke="#0000ff" stroke-width="3.0" fill="none"/>
<rect x="268.30" y="343.35" width="2.3" height="4.0" fill="#0000ff"/>
<rect x="277.00" y="351.05" width="2.3" height="4.3" fill="#0000ff"/>
<rect x="282.70" y="344.50" width="13.4" height="2.3" fill="#0000ff"/>
<rect x="282.70" y="348.80" width="13.4" height="2.3" fill="#0000ff"/>
<path d="M306.25,338.40 L306.25,355.30" stroke="#0000ff" stroke-width="3.01" fill="none"/>
<path d="M306.02,339.54 L302.16,342.94" stroke="#0000ff" stroke-width="1.93" fill="none"/>
<path d="M301.88,354.34 L309.25,354.34" stroke="#0000ff" stroke-width="1.93" fill="none"/>
<path d="M320.75,338.40 L320.75,355.30" stroke="#0000ff" stroke-width="3.01" fill="none"/>
<path d="M320.52,339.54 L316.66,342.94" stroke="#0000ff" stroke-width="1.93" fill="none"/>
<path d="M316.38,354.34 L323.75,354.34" stroke="#0000ff" stroke-width="1.93" fill="none"/>
<path d="M547.20,344.70 H557.00 M547.10,354.00 H557.60" stroke="#0000ff" stroke-width="2.7" fill="none"/>
<path d="M556.20,344.70 L548.10,354.00" stroke="#0000ff" stroke-width="3.0" fill="none"/>
<rect x="546.60" y="343.35" width="2.3" height="4.0" fill="#0000ff"/>
<rect x="555.30" y="351.05" width="2.3" height="4.3" fill="#0000ff"/>
<rect x="561.00" y="344.50" width="13.4" height="2.3" fill="#0000ff"/>
<rect x="561.00" y="348.80" width="13.4" height="2.3" fill="#0000ff"/>
<text x="584.10" y="355.50" font-size="24.5" text-anchor="middle" fill="#0000ff" font-weight="normal" font-family="Liberation Serif, serif" stroke="#0000ff" stroke-width="1.15" stroke-linejoin="round">9</text>
<g transform="translate(172.05,649.80) scale(0.930,1)">
<text x="0.00" y="0.00" font-size="21.5" text-anchor="middle" fill="#0000ff" font-weight="normal" font-family="Liberation Serif, serif" stroke="#0000ff" stroke-width="0.7" >F</text>
</g>
<text x="190.25" y="641.20" font-size="15.0" text-anchor="middle" fill="#0000ff" font-weight="bold" font-family="Liberation Serif, serif" stroke="#0000ff" stroke-width="0.15" letter-spacing="0.9">ps</text>
<text x="182.15" y="656.20" font-size="14.0" text-anchor="middle" fill="#0000ff" font-weight="normal" font-family="Liberation Serif, serif" stroke="#0000ff" stroke-width="0.6" font-style="italic">ν</text>
<text x="209.90" y="650.60" font-size="24.0" text-anchor="middle" fill="#0000ff" font-weight="normal" font-family="Liberation Serif, serif" stroke="#0000ff" stroke-width="0.7" >[</text>
<g transform="translate(221.65,649.80) scale(1.180,1)">
<text x="0.00" y="0.00" font-size="21.5" text-anchor="middle" fill="#0000ff" font-weight="normal" font-family="Liberation Serif, serif" stroke="#0000ff" stroke-width="0.7" >n</text>
</g>
<g transform="translate(234.30,649.80) scale(1.070,1)">
<text x="0.00" y="0.00" font-size="21.5" text-anchor="middle" fill="#0000ff" font-weight="normal" font-family="Liberation Serif, serif" stroke="#0000ff" stroke-width="0.7" >J</text>
</g>
<text x="244.70" y="649.80" font-size="21.5" text-anchor="middle" fill="#0000ff" font-weight="normal" font-family="Liberation Serif, serif" stroke="#0000ff" stroke-width="0.7" >y</text>
<text x="254.00" y="650.60" font-size="24.0" text-anchor="middle" fill="#0000ff" font-weight="normal" font-family="Liberation Serif, serif" stroke="#0000ff" stroke-width="0.7" >]</text>
<g transform="translate(450.30,649.80) scale(0.930,1)">
<text x="0.00" y="0.00" font-size="21.5" text-anchor="middle" fill="#0000ff" font-weight="normal" font-family="Liberation Serif, serif" stroke="#0000ff" stroke-width="0.7" >F</text>
</g>
<text x="468.50" y="641.20" font-size="15.0" text-anchor="middle" fill="#0000ff" font-weight="bold" font-family="Liberation Serif, serif" stroke="#0000ff" stroke-width="0.15" letter-spacing="0.9">ps</text>
<text x="460.40" y="656.20" font-size="14.0" text-anchor="middle" fill="#0000ff" font-weight="normal" font-family="Liberation Serif, serif" stroke="#0000ff" stroke-width="0.6" font-style="italic">ν</text>
<text x="488.15" y="650.60" font-size="24.0" text-anchor="middle" fill="#0000ff" font-weight="normal" font-family="Liberation Serif, serif" stroke="#0000ff" stroke-width="0.7" >[</text>
<g transform="translate(499.90,649.80) scale(1.180,1)">
<text x="0.00" y="0.00" font-size="21.5" text-anchor="middle" fill="#0000ff" font-weight="normal" font-family="Liberation Serif, serif" stroke="#0000ff" stroke-width="0.7" >n</text>
</g>
<g transform="translate(512.55,649.80) scale(1.070,1)">
<text x="0.00" y="0.00" font-size="21.5" text-anchor="middle" fill="#0000ff" font-weight="normal" font-family="Liberation Serif, serif" stroke="#0000ff" stroke-width="0.7" >J</text>
</g>
<text x="522.95" y="649.80" font-size="21.5" text-anchor="middle" fill="#0000ff" font-weight="normal" font-family="Liberation Serif, serif" stroke="#0000ff" stroke-width="0.7" >y</text>
<text x="532.25" y="650.60" font-size="24.0" text-anchor="middle" fill="#0000ff" font-weight="normal" font-family="Liberation Serif, serif" stroke="#0000ff" stroke-width="0.7" >]</text>
<g transform="translate(19.6,267.60) rotate(-90)">
<g transform="translate(6.40,0.00) scale(1.150,1)">
<text x="0.00" y="0.00" font-size="21.5" text-anchor="middle" fill="#0000ff" font-weight="normal" font-family="Liberation Serif, serif" stroke="#0000ff" stroke-width="0.7" >d</text>
</g>
<text x="17.00" y="-8.30" font-size="13.5" text-anchor="middle" fill="#0000ff" font-weight="normal" font-family="Liberation Serif, serif" stroke="#0000ff" stroke-width="0.6" >2</text>
<g transform="translate(28.20,0.00) scale(0.820,1)">
<text x="0.00" y="0.00" font-size="21.5" text-anchor="middle" fill="#0000ff" font-weight="normal" font-family="Liberation Serif, serif" stroke="#0000ff" stroke-width="0.7" >N</text>
</g>
<path d="M37.0,4.0 L49.8,-15.6" stroke="#0000ff" stroke-width="2.2" fill="none"/>
<text x="52.90" y="0.30" font-size="23.5" text-anchor="middle" fill="#0000ff" font-weight="normal" font-family="Liberation Serif, serif" stroke="#0000ff" stroke-width="0.7" >(</text>
<g transform="translate(63.30,0.00) scale(1.150,1)">
<text x="0.00" y="0.00" font-size="21.5" text-anchor="middle" fill="#0000ff" font-weight="normal" font-family="Liberation Serif, serif" stroke="#0000ff" stroke-width="0.7" >d</text>
</g>
<g transform="translate(75.70,0.00) scale(1.100,1)">
<text x="0.00" y="0.00" font-size="21.5" text-anchor="middle" fill="#0000ff" font-weight="normal" font-family="Liberation Serif, serif" stroke="#0000ff" stroke-width="0.7" >z</text>
</g>
<g transform="translate(97.75,0.00) scale(1.150,1)">
<text x="0.00" y="0.00" font-size="21.5" text-anchor="middle" fill="#0000ff" font-weight="normal" font-family="Liberation Serif, serif" stroke="#0000ff" stroke-width="0.7" >d</text>
</g>
<text x="113.20" y="0.00" font-size="21.5" text-anchor="middle" fill="#0000ff" font-weight="normal" font-family="Liberation Serif, serif" stroke="#0000ff" stroke-width="0.7" >l</text>
<g transform="translate(121.80,0.00) scale(1.120,1)">
<text x="0.00" y="0.00" font-size="21.5" text-anchor="middle" fill="#0000ff" font-weight="normal" font-family="Liberation Serif, serif" stroke="#0000ff" stroke-width="0.7" >o</text>
</g>
<g transform="translate(134.90,0.00) scale(1.180,1)">
<text x="0.00" y="0.00" font-size="22.0" text-anchor="middle" fill="#0000ff" font-weight="normal" font-family="Liberation Serif, serif" stroke="#0000ff" stroke-width="0.7" >g</text>
</g>
<g transform="translate(148.60,0.00) scale(0.930,1)">
<text x="0.00" y="0.00" font-size="21.5" text-anchor="middle" fill="#0000ff" font-weight="normal" font-family="Liberation Serif, serif" stroke="#0000ff" stroke-width="0.7" >F</text>
</g>
<text x="157.95" y="5.20" font-size="14.0" text-anchor="middle" fill="#0000ff" font-weight="normal" font-family="Liberation Serif, serif" stroke="#0000ff" stroke-width="0.6" font-style="italic">ν</text>
<text x="164.75" y="-10.90" font-size="15.0" text-anchor="middle" fill="#0000ff" font-weight="bold" font-family="Liberation Serif, serif" stroke="#0000ff" stroke-width="0.15" letter-spacing="0.9">ps</text>
<text x="179.00" y="0.30" font-size="23.5" text-anchor="middle" fill="#0000ff" font-weight="normal" font-family="Liberation Serif, serif" stroke="#0000ff" stroke-width="0.7" >)</text>
</g>
<g transform="translate(19.6,546.20) rotate(-90)">
<g transform="translate(6.40,0.00) scale(1.150,1)">
<text x="0.00" y="0.00" font-size="21.5" text-anchor="middle" fill="#0000ff" font-weight="normal" font-family="Liberation Serif, serif" stroke="#0000ff" stroke-width="0.7" >d</text>
</g>
<text x="17.00" y="-8.30" font-size="13.5" text-anchor="middle" fill="#0000ff" font-weight="normal" font-family="Liberation Serif, serif" stroke="#0000ff" stroke-width="0.6" >2</text>
<g transform="translate(28.20,0.00) scale(0.820,1)">
<text x="0.00" y="0.00" font-size="21.5" text-anchor="middle" fill="#0000ff" font-weight="normal" font-family="Liberation Serif, serif" stroke="#0000ff" stroke-width="0.7" >N</text>
</g>
<path d="M37.0,4.0 L49.8,-15.6" stroke="#0000ff" stroke-width="2.2" fill="none"/>
<text x="52.90" y="0.30" font-size="23.5" text-anchor="middle" fill="#0000ff" font-weight="normal" font-family="Liberation Serif, serif" stroke="#0000ff" stroke-width="0.7" >(</text>
<g transform="translate(63.30,0.00) scale(1.150,1)">
<text x="0.00" y="0.00" font-size="21.5" text-anchor="middle" fill="#0000ff" font-weight="normal" font-family="Liberation Serif, serif" stroke="#0000ff" stroke-width="0.7" >d</text>
</g>
<g transform="translate(75.70,0.00) scale(1.100,1)">
<text x="0.00" y="0.00" font-size="21.5" text-anchor="middle" fill="#0000ff" font-weight="normal" font-family="Liberation Serif, serif" stroke="#0000ff" stroke-width="0.7" >z</text>
</g>
<g transform="translate(97.75,0.00) scale(1.150,1)">
<text x="0.00" y="0.00" font-size="21.5" text-anchor="middle" fill="#0000ff" font-weight="normal" font-family="Liberation Serif, serif" stroke="#0000ff" stroke-width="0.7" >d</text>
</g>
<text x="113.20" y="0.00" font-size="21.5" text-anchor="middle" fill="#0000ff" font-weight="normal" font-family="Liberation Serif, serif" stroke="#0000ff" stroke-width="0.7" >l</text>
<g transform="translate(121.80,0.00) scale(1.120,1)">
<text x="0.00" y="0.00" font-size="21.5" text-anchor="middle" fill="#0000ff" font-weight="normal" font-family="Liberation Serif, serif" stroke="#0000ff" stroke-width="0.7" >o</text>
</g>
<g transform="translate(134.90,0.00) scale(1.180,1)">
<text x="0.00" y="0.00" font-size="22.0" text-anchor="middle" fill="#0000ff" font-weight="normal" font-family="Liberation Serif, serif" stroke="#0000ff" stroke-width="0.7" >g</text>
</g>
<g transform="translate(148.60,0.00) scale(0.930,1)">
<text x="0.00" y="0.00" font-size="21.5" text-anchor="middle" fill="#0000ff" font-weight="normal" font-family="Liberation Serif, serif" stroke="#0000ff" stroke-width="0.7" >F</text>
</g>
<text x="157.95" y="5.20" font-size="14.0" text-anchor="middle" fill="#0000ff" font-weight="normal" font-family="Liberation Serif, serif" stroke="#0000ff" stroke-width="0.6" font-style="italic">ν</text>
<text x="164.75" y="-10.90" font-size="15.0" text-anchor="middle" fill="#0000ff" font-weight="bold" font-family="Liberation Serif, serif" stroke="#0000ff" stroke-width="0.15" letter-spacing="0.9">ps</text>
<text x="179.00" y="0.30" font-size="23.5" text-anchor="middle" fill="#0000ff" font-weight="normal" font-family="Liberation Serif, serif" stroke="#0000ff" stroke-width="0.7" >)</text>
</g>
</svg>
</body></html>
